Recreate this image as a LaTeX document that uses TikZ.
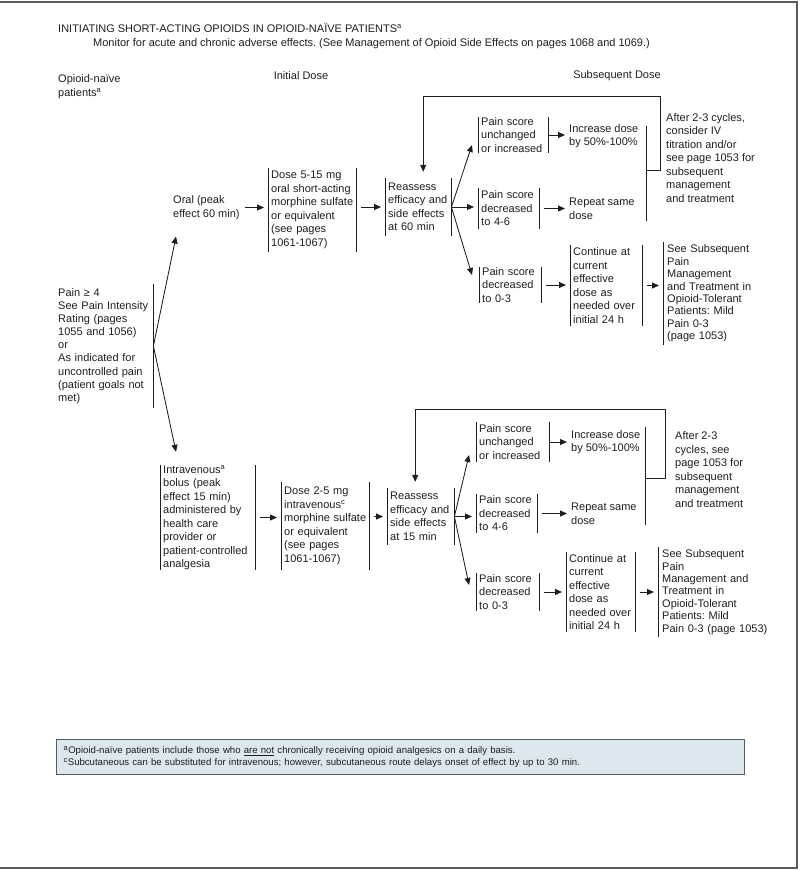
\documentclass[tikz,border=0pt]{standalone}
\usepackage{fontspec}
\setmainfont{Liberation Sans}
\usetikzlibrary{arrows.meta,calc}

\definecolor{inkgray}{HTML}{1E1E1E}
\definecolor{framegray}{HTML}{5A5A5A}
\definecolor{notefill}{HTML}{DDE8EE}

\newcommand{\smallsup}[1]{\textsuperscript{\fontsize{7.5}{7.5}\selectfont #1}}

\begin{document}
\frenchspacing
\begin{tikzpicture}[x=1pt,y=-1pt,
  every node/.style={text=inkgray, font=\fontsize{11}{13.5}\selectfont},
  txt/.style={anchor=west, inner sep=0pt, align=left},
  barline/.style={draw=inkgray, line width=0.95pt},
  vbars/.style={anchor=west, inner xsep=3pt, inner ysep=0pt, align=left,
    append after command={(\tikzlastnode.north west) edge[barline] (\tikzlastnode.south west)
      (\tikzlastnode.north east) edge[barline] (\tikzlastnode.south east)}},
  lbar/.style={anchor=west, inner xsep=4pt, inner ysep=0pt, align=left,
    font=\fontsize{11}{12.4}\selectfont,
    append after command={(\tikzlastnode.north west) edge[barline] (\tikzlastnode.south west)}},
  rbar/.style={anchor=west, inner xsep=3pt, inner ysep=0pt, align=left,
    append after command={(\tikzlastnode.north east) edge[barline] (\tikzlastnode.south east)}},
  arr/.style={draw=inkgray, line width=0.85pt, -{Triangle[length=7pt,width=6pt]},
    shorten <=5pt, shorten >=4pt},
  fan/.style={arr, shorten <=0pt, shorten >=0pt},
  loopline/.style={arr, shorten <=0pt, shorten >=6pt}
]

% Fix the page size
\useasboundingbox (0,0) rectangle (800,870);

% Draw the frame
\draw[framegray, line width=1.6pt] (0,2) -- (797,2) -- (797,868) -- (0,868);

% Draw the headings
\node[txt] (title) at (58,28) {INITIATING SHORT-ACTING OPIOIDS IN OPIOID-NAÏVE PATIENTS\smallsup{a}};
\node[txt] (monitor) at (93,44) {Monitor for acute and chronic adverse effects. (See Management of Opioid Side Effects on pages 1068 and 1069.)};
\node[txt] (naive) at (58,86.5) {Opioid-naïve\\patients\smallsup{a}};
\node (initdose) at (301,76) {Initial Dose};
\node (subsdose) at (617,76) {Subsequent Dose};

% Draw the starting point
\node[rbar, text width=92pt, minimum height=124pt, font=\fontsize{11}{13.1}\selectfont] (pain) at (55,346)
  {Pain ≥ 4\\See Pain Intensity\\Rating (pages\\1055 and 1056)\\or\\As indicated for\\uncontrolled pain\\(patient goals not\\met)};

% Draw the oral branch
\node[txt] (oral) at (173,207.5) {Oral (peak\\effect 60 min)};
\node[vbars, text width=82pt, minimum height=84pt] (dose1) at (268,210)
  {Dose 5-15 mg\\oral short-acting\\morphine sulfate\\or equivalent\\(see pages\\1061-1067)};
\node[vbars, text width=60pt, minimum height=58pt] (reas1) at (385,207)
  {Reassess\\efficacy and\\side effects\\at 60 min};
\node[vbars, text width=64pt, minimum height=36pt] (unch1) at (478,135) {Pain score\\unchanged\\or increased};
\node[vbars, text width=55pt, minimum height=41pt] (mid1) at (478,208.5) {Pain score\\decreased\\to 4-6};
\node[vbars, text width=56pt, minimum height=36pt] (low1) at (479,285) {Pain score\\decreased\\to 0-3};
\node[txt] (inc1) at (569,136) {Increase dose\\by 50\%-100\%};
\node[txt] (rep1) at (569,209) {Repeat same\\dose};
\node[txt] (after1) at (666,158)
  {After 2-3 cycles,\\consider IV\\titration and/or\\see page 1053 for\\subsequent\\management\\and treatment};
\node[vbars, text width=66pt, minimum height=81pt] (cont1) at (570,285.5)
  {Continue at\\current\\effective\\dose as\\needed over\\initial 24 h};
\node[lbar, text width=115pt, minimum height=103pt] (see1) at (663,293.5)
  {See Subsequent\\Pain\\Management\\and Treatment in\\Opioid-Tolerant\\Patients: Mild\\Pain 0-3\\(page 1053)};

% Draw the intravenous branch
\node[vbars, text width=89pt, minimum height=105pt] (iv) at (160,517.5)
  {Intravenous\smallsup{a}\\bolus (peak\\effect 15 min)\\administered by\\health care\\provider or\\patient-controlled\\analgesia};
\node[vbars, text width=82pt, minimum height=87pt] (dose2) at (281,526)
  {Dose 2-5 mg\\intravenous\smallsup{c}\\morphine sulfate\\or equivalent\\(see pages\\1061-1067)};
\node[vbars, text width=61pt, minimum height=57pt] (reas2) at (387,516.5)
  {Reassess\\efficacy and\\side effects\\at 15 min};
\node[vbars, text width=67pt, minimum height=40pt] (unch2) at (476,442) {Pain score\\unchanged\\or increased};
\node[vbars, text width=55pt, minimum height=39pt] (mid2) at (476,513.5) {Pain score\\decreased\\to 4-6};
\node[vbars, text width=57pt, minimum height=38pt] (low2) at (476,592) {Pain score\\decreased\\to 0-3};
\node[txt] (inc2) at (571,442) {Increase dose\\by 50\%-100\%};
\node[txt] (rep2) at (571,514) {Repeat same\\dose};
\node[txt] (after2) at (675,469.5)
  {After 2-3\\cycles, see\\page 1053 for\\subsequent\\management\\and treatment};
\node[vbars, text width=63pt, minimum height=80pt] (cont2) at (566,592)
  {Continue at\\current\\effective\\dose as\\needed over\\initial 24 h};
\node[lbar, text width=120pt, minimum height=90pt] (see2) at (658,592)
  {See Subsequent\\Pain\\Management and\\Treatment in\\Opioid-Tolerant\\Patients: Mild\\Pain 0-3 (page 1053)};

% Draw the group bars and the loop corners
\coordinate (grp1a) at (646,126);
\coordinate (grp1b) at (646,221);
\coordinate (grp1j) at (646,170);
\coordinate (turn1) at (660,96);
\coordinate (grp2a) at (645,427);
\coordinate (grp2b) at (645,525);
\coordinate (grp2j) at (645,478);
\coordinate (turn2) at (665,409);
\draw[barline] (grp1a) -- (grp1b);
\draw[barline] (grp2a) -- (grp2b);

% Draw the arrows
\draw[fan] (pain.east) -- ($(oral.west)+(3,29)$);
\draw[fan] (pain.east) -- ($(iv.north west)+(16,-13)$);

\draw[arr] (oral.east) -- (dose1.west |- oral.east);
\draw[arr] (dose1.east |- reas1.west) -- (reas1.west);
\draw[fan] (reas1.east) -- ($(unch1.west)+(-6,10)$);
\draw[fan, shorten >=4pt] (reas1.east) -- (reas1.east -| mid1.west);
\draw[fan] (reas1.east) -- ($(low1.west)+(-7,-10)$);
\draw[arr, shorten <=1pt] (unch1.east) -- (inc1.west |- unch1.east);
\draw[arr] (mid1.east) -- (rep1.west |- mid1.east);
\draw[arr] (low1.east) -- (cont1.west |- low1.east);
\draw[arr] (cont1.east) -- (see1.west |- cont1.east);
\draw[loopline] (grp1j) -| (turn1) -| ([xshift=5pt]reas1.north);

\draw[arr] (iv.east) -- (dose2.west |- iv.east);
\draw[arr] (dose2.east |- reas2.west) -- (reas2.west);
\draw[fan] (reas2.east) -- ($(unch2.west)+(-7,13)$);
\draw[fan, shorten >=4pt] (reas2.east) -- (reas2.east -| mid2.west);
\draw[fan] (reas2.east) -- ($(low2.west)+(-7,-7)$);
\draw[arr, shorten <=1pt] (unch2.east) -- (inc2.west |- unch2.east);
\draw[arr] (mid2.east) -- (rep2.west |- mid2.east);
\draw[arr] (low2.east) -- (cont2.west |- low2.east);
\draw[arr] (cont2.east) -- (see2.west |- cont2.east);
\draw[loopline] (grp2j) -| (turn2) -| ([xshift=-5.5pt]reas2.north);

% Draw the footnotes
\node[anchor=north west, draw=framegray, line width=1.2pt, fill=notefill,
  minimum width=688pt, minimum height=35pt, text width=674pt, inner xsep=7pt, inner ysep=0pt,
  align=left, font=\fontsize{9.6}{12}\selectfont] (notes) at (56,739)
  {\smallsup{a}Opioid-naïve patients include those who \underline{are not} chronically receiving opioid analgesics on a daily basis.\\
   \smallsup{c}Subcutaneous can be substituted for intravenous; however, subcutaneous route delays onset of effect by up to 30 min.};

\end{tikzpicture}
\end{document}
